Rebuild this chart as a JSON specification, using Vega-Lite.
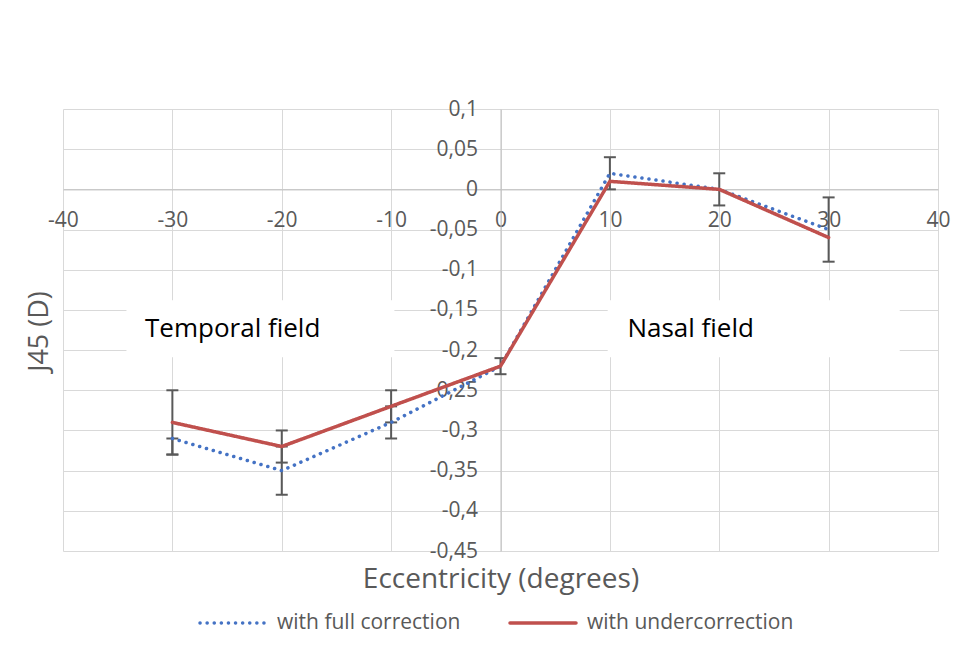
{
  "$schema": "https://vega.github.io/schema/vega-lite/v6.json",
  "width": 875,
  "height": 442,
  "autosize": {"type": "none"},
  "padding": {"left": 63, "top": 109, "right": 17, "bottom": 114},
  "background": "white",
  "config": {"view": {"stroke": null}, "font": "Open Sans"},
  "datasets": {
    "series": [
      {"x": -30, "j45": -0.31, "s": "with full correction"},
      {"x": -20, "j45": -0.35, "s": "with full correction"},
      {"x": -10, "j45": -0.29, "s": "with full correction"},
      {"x": 0, "j45": -0.22, "s": "with full correction"},
      {"x": 10, "j45": 0.02, "s": "with full correction"},
      {"x": 20, "j45": 0.0, "s": "with full correction"},
      {"x": 30, "j45": -0.05, "s": "with full correction"},
      {"x": -30, "j45": -0.29, "s": "with undercorrection"},
      {"x": -20, "j45": -0.32, "s": "with undercorrection"},
      {"x": -10, "j45": -0.27, "s": "with undercorrection"},
      {"x": 0, "j45": -0.22, "s": "with undercorrection"},
      {"x": 10, "j45": 0.01, "s": "with undercorrection"},
      {"x": 20, "j45": 0.0, "s": "with undercorrection"},
      {"x": 30, "j45": -0.06, "s": "with undercorrection"}
    ],
    "err": [
      {"x": -30, "lo": -0.33, "hi": -0.25},
      {"x": -30, "lo": -0.33, "hi": -0.31},
      {"x": -20, "lo": -0.34, "hi": -0.30},
      {"x": -20, "lo": -0.38, "hi": -0.32},
      {"x": -10, "lo": -0.29, "hi": -0.25},
      {"x": -10, "lo": -0.31, "hi": -0.27},
      {"x": 0, "lo": -0.23, "hi": -0.21},
      {"x": 10, "lo": 0.0, "hi": 0.04},
      {"x": 20, "lo": -0.02, "hi": 0.02},
      {"x": 30, "lo": -0.09, "hi": -0.01}
    ],
    "notes": [
      {"x1": -34.2, "x2": -9.7, "y1": -0.138, "y2": -0.209, "tx": -32.5, "ty": -0.1735, "label": "Temporal field"},
      {"x1": 9.8, "x2": 36.5, "y1": -0.138, "y2": -0.209, "tx": 11.6, "ty": -0.1735, "label": "Nasal field"}
    ]
  },
  "layer": [
    {
      "data": {"name": "notes"},
      "mark": {"type": "rect", "color": "white"},
      "encoding": {
        "x": {
          "field": "x1", "type": "quantitative",
          "scale": {"domain": [-40, 40], "nice": false, "zero": false},
          "axis": {
            "orient": "bottom", "offset": -361.6,
            "values": [-40, -30, -20, -10, 0, 10, 20, 30, 40],
            "labelExpr": "toString(datum.value)",
            "ticks": false, "domainColor": "#bfbfbf", "domainWidth": 1,
            "grid": true, "gridColor": "#d9d9d9", "gridWidth": 1,
            "labelColor": "#595959", "labelFontSize": 21, "labelPadding": 20,
            "labelOverlap": false, "labelFlush": false, "labelFont": "Open Sans",
            "title": "Eccentricity (degrees)", "titleColor": "#595959",
            "titleFontSize": 28, "titleFontWeight": "normal", "titleFont": "Open Sans",
            "titleX": 437.5, "titleY": 390, "titleAlign": "center", "titleBaseline": "middle", "titleAnchor": null
          }
        },
        "x2": {"field": "x2"},
        "y": {
          "field": "y1", "type": "quantitative",
          "scale": {"domain": [-0.45, 0.1], "nice": false, "zero": false},
          "axis": {
            "orient": "left", "offset": -437.5,
            "values": [0.1, 0.05, 0, -0.05, -0.1, -0.15, -0.2, -0.25, -0.3, -0.35, -0.4, -0.45],
            "labelExpr": "replace(toString(datum.value), '.', ',')",
            "ticks": false, "domainColor": "#bfbfbf", "domainWidth": 1,
            "grid": true, "gridColor": "#d9d9d9", "gridWidth": 1,
            "labelColor": "#595959", "labelFontSize": 21, "labelPadding": 23,
            "labelOverlap": false, "labelFlush": false, "labelFont": "Open Sans",
            "title": "J45 (D)", "titleColor": "#595959",
            "titleFontSize": 27, "titleFontWeight": "normal", "titleFont": "Open Sans",
            "titleX": -461, "titleY": 222, "titleAngle": -90, "titleAlign": "center", "titleBaseline": "middle", "titleAnchor": null
          }
        },
        "y2": {"field": "y2"}
      }
    },
    {
      "data": {"name": "err"},
      "mark": {"type": "rule", "color": "#595959", "strokeWidth": 2},
      "encoding": {
        "x": {"field": "x", "type": "quantitative"},
        "y": {"field": "lo", "type": "quantitative"},
        "y2": {"field": "hi"}
      }
    },
    {
      "data": {"name": "err"},
      "mark": {"type": "tick", "orient": "horizontal", "color": "#595959", "size": 12, "thickness": 2, "opacity": 1},
      "encoding": {
        "x": {"field": "x", "type": "quantitative"},
        "y": {"field": "lo", "type": "quantitative"}
      }
    },
    {
      "data": {"name": "err"},
      "mark": {"type": "tick", "orient": "horizontal", "color": "#595959", "size": 12, "thickness": 2, "opacity": 1},
      "encoding": {
        "x": {"field": "x", "type": "quantitative"},
        "y": {"field": "hi", "type": "quantitative"}
      }
    },
    {
      "data": {"name": "series"},
      "mark": {"type": "line", "strokeWidth": 3.5, "strokeCap": "round", "strokeJoin": "round"},
      "encoding": {
        "x": {"field": "x", "type": "quantitative"},
        "y": {"field": "j45", "type": "quantitative"},
        "color": {
          "field": "s", "type": "nominal",
          "scale": {"domain": ["with full correction", "with undercorrection"], "range": ["#4472C4", "#C0504D"]},
          "legend": {
            "orient": "none", "legendX": 135, "legendY": 479, "direction": "horizontal",
            "title": null, "symbolType": "stroke", "symbolSize": 4356, "symbolStrokeWidth": 3.5,
            "labelFontSize": 21, "labelColor": "#595959", "labelFont": "Open Sans", "labelLimit": 400,
            "labelOffset": 9, "columnPadding": 42,
            "symbolDash": [0.1, 7],
            "encode": {"symbols": {"update": {"strokeCap": {"value": "round"}}}}
          }
        },
        "strokeDash": {
          "field": "s", "type": "nominal",
          "scale": {"domain": ["with full correction", "with undercorrection"], "range": [[0.1, 7], [1, 0]]},
          "legend": null
        }
      }
    },
    {
      "data": {"name": "notes"},
      "mark": {"type": "text", "align": "left", "baseline": "middle", "fontSize": 26, "color": "black", "font": "Open Sans"},
      "encoding": {
        "x": {"field": "tx", "type": "quantitative"},
        "y": {"field": "ty", "type": "quantitative"},
        "text": {"field": "label"}
      }
    }
  ]
}
